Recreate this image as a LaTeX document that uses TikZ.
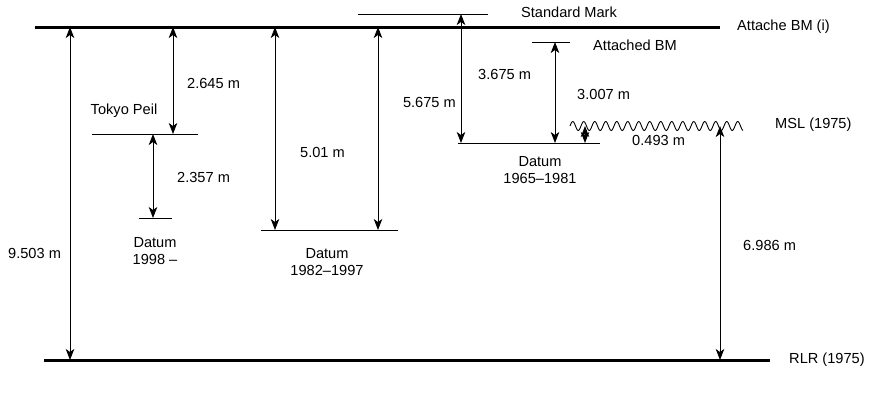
\documentclass[tikz,border=0pt]{standalone}
\usepackage{fontspec}
\setmainfont{Liberation Sans}
\usetikzlibrary{arrows.meta}
\tikzstyle{levelline} = [line width=3pt]
\tikzstyle{refline} = [line width=0.9pt]
\tikzstyle{dim} = [line width=0.9pt, {Stealth[length=11pt,width=8.5pt,inset=3pt]}-{Stealth[length=11pt,width=8.5pt,inset=3pt]}]
\tikzstyle{dimtext} = [anchor=west, inner sep=0pt]
\tikzstyle{datum} = [align=center, inner sep=0pt]

\begin{document}
\begin{tikzpicture}[x=1pt, y=-1pt, font=\fontsize{14.6}{17}\selectfont]
        \useasboundingbox (0,0) rectangle (875,400);
        % reference levels
        \coordinate (bmL) at (35,27);
        \coordinate (bmR) at (720,27);
        \coordinate (rlrL) at (44,360);
        \coordinate (rlrR) at (770,360);
        \coordinate (smL) at (358,14);
        \coordinate (smR) at (488,14);
        \coordinate (abmL) at (532,42);
        \coordinate (abmR) at (570,42);
        \coordinate (tpL) at (92,134);
        \coordinate (tpR) at (198,134);
        \coordinate (dnewL) at (139,218);
        \coordinate (dnewR) at (172,218);
        \coordinate (dmidL) at (261,230);
        \coordinate (dmidR) at (398,230);
        \coordinate (doldL) at (458,143);
        \coordinate (doldR) at (600,143);

        \draw [levelline] (bmL) -- (bmR);
        \draw [levelline] (rlrL) -- (rlrR);
        \draw [refline] (smL) -- (smR);
        \draw [refline] (abmL) -- (abmR);
        \draw [refline] (tpL) -- (tpR);
        \draw [refline] (dnewL) -- (dnewR);
        \draw [refline] (dmidL) -- (dmidR);
        \draw [refline] (doldL) -- (doldR);
        % mean sea level
        \draw [refline] plot[domain=0:173, samples=240] ({\x+570}, {126-4.5*sin(\x*32.727)});

        % level names
        \node (bmtext) [anchor=west, inner sep=0pt] at (737,27) {Attache BM (i)};
        \node (rlrtext) [anchor=west, inner sep=0pt] at (789,360) {RLR (1975)};
        \node (smtext) [inner sep=0pt] at (569,12) {Standard Mark};
        \node (abmtext) [anchor=west, inner sep=0pt] at (593,45) {Attached BM};
        \node (msltext) [anchor=west, inner sep=0pt] at (775,125) {MSL (1975)};
        \node (tptext) [inner sep=0pt] at (124,111) {Tokyo Peil};
        \node (dnew) [datum] at (155,251) {Datum\\1998 --};
        \node (dmid) [datum] at (327,262) {Datum\\1982--1997};
        \node (dold) [datum] at (540,170) {Datum\\1965--1981};

        % dimensions
        \coordinate (a1) at (70,27);  \coordinate (b1) at (70,360);
        \coordinate (a2) at (173,27); \coordinate (b2) at (173,134);
        \coordinate (a3) at (153,134); \coordinate (b3) at (153,218);
        \coordinate (a4) at (275,27); \coordinate (b4) at (275,230);
        \coordinate (a5) at (378,27); \coordinate (b5) at (378,230);
        \coordinate (a6) at (461,14); \coordinate (b6) at (461,143);
        \coordinate (a7) at (555,42); \coordinate (b7) at (555,143);
        \coordinate (a8) at (720,126); \coordinate (b8) at (720,360);
        \coordinate (a9) at (585,126); \coordinate (b9) at (585,143);

        \draw [dim] (a1) -- (b1);
        \draw [dim] (a2) -- (b2);
        \draw [dim] (a3) -- (b3);
        \draw [dim] (a4) -- (b4);
        \draw [dim] (a5) -- (b5);
        \draw [dim] (a6) -- (b6);
        \draw [dim] (a7) -- (b7);
        \draw [dim] (a8) -- (b8);
        \draw [dim] (a9) -- (b9);

        \node (t1) [dimtext] at (8,253) {9.503 m};
        \node (t2) [dimtext] at (187,83) {2.645 m};
        \node (t3) [dimtext] at (177,177) {2.357 m};
        \node (t4) [dimtext] at (300,152) {5.01 m};
        \node (t6) [anchor=east, inner sep=0pt] at (456,102) {5.675 m};
        \node (t7) [dimtext] at (478,74) {3.675 m};
        \node (t7b) [dimtext] at (577,94) {3.007 m};
        \node (t9) [dimtext] at (632,140) {0.493 m};
        \node (t8) [dimtext] at (743,245) {6.986 m};
    \end{tikzpicture}
\end{document}
